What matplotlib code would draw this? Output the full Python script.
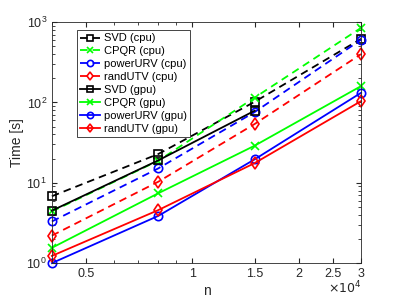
import numpy as np
import matplotlib
matplotlib.use("Agg")
import matplotlib.pyplot as plt
from matplotlib.ticker import FixedLocator, NullFormatter, LogLocator

plt.rcParams['font.family'] = ['Liberation Sans', 'DejaVu Sans']

# matrix sizes
n = [4000, 8000, 15000, 30000]

# timings in seconds
svd_cpu = [6.8, 22.8, 102, 620]
cpqr_cpu = [4.4, 18.8, 115, 850]
purv_cpu = [3.3, 15.1, 76, 605]
rutv_cpu = [2.2, 10.3, 54, 400]
svd_gpu = [4.5, 19.0, 79, np.nan]
cpqr_gpu = [1.55, 7.4, 29, 160]
purv_gpu = [1.0, 3.87, 19.6, 132]
rutv_gpu = [1.23, 4.57, 17.6, 104]

xticks = [5000, 10000, 15000, 20000, 25000, 30000]
xticklabels = ['0.5', '1', '1.5', '2', '2.5', '3']

grey = (0.15, 0.15, 0.15)
green = (0, 1, 0)

fig = plt.figure(figsize=(3.99, 2.99), dpi=100)
ax = fig.add_axes([0.130, 0.120, 0.775, 0.806])

series = [
    (svd_cpu, 'k', 's', '--', 'SVD (cpu)'),
    (cpqr_cpu, green, 'x', '--', 'CPQR (cpu)'),
    (purv_cpu, 'b', 'o', '--', 'powerURV (cpu)'),
    (rutv_cpu, 'r', 'd', '--', 'randUTV (cpu)'),
    (svd_gpu, 'k', 's', '-', 'SVD (gpu)'),
    (cpqr_gpu, green, 'x', '-', 'CPQR (gpu)'),
    (purv_gpu, 'b', 'o', '-', 'powerURV (gpu)'),
    (rutv_gpu, 'r', 'd', '-', 'randUTV (gpu)'),
]
for y, c, m, ls, lab in series:
    line, = ax.plot(n, y, color=c, marker=m, linestyle=ls, label=lab, lw=1.3,
                    markersize=6, markerfacecolor='none', markeredgewidth=1.2,
                    clip_on=False)
    if ls == '--':
        line.set_dashes((4.2, 2.8))

ax.set_xscale('log')
ax.set_yscale('log')
ax.set_xlim(4000, 30000)
ax.set_ylim(1, 1000)
ax.xaxis.set_major_locator(FixedLocator(xticks))
ax.set_xticklabels(xticklabels)
ax.xaxis.set_minor_locator(LogLocator(base=10, subs=np.arange(1, 10) * 1.0))
ax.xaxis.set_minor_formatter(NullFormatter())
ax.yaxis.set_minor_locator(LogLocator(base=10, subs=np.arange(2, 10) * 1.0))

ax.tick_params(which='both', direction='in', top=True, right=True,
               colors=grey, labelsize=9)
ax.tick_params(which='major', length=3.5)
ax.tick_params(which='minor', length=2)
for s in ax.spines.values():
    s.set_color(grey)
    s.set_linewidth(0.6)

ax.set_xlabel('n', fontsize=10, color=grey, labelpad=3)
ax.set_ylabel('Time [s]', fontsize=10, color=grey, labelpad=2)
fig.text(0.905, 0.01, r'$\times10^4$', ha='right', va='bottom',
         fontsize=9, color=grey)

leg = ax.legend(loc='upper left', bbox_to_anchor=(0.081, 0.967), fontsize=8,
                handlelength=1.8, handletextpad=0.35, labelspacing=0.26,
                borderpad=0.3, borderaxespad=0, fancybox=False, framealpha=1,
                markerscale=0.75)
leg.get_frame().set_edgecolor(grey)
leg.get_frame().set_linewidth(0.6)

fig.savefig('out.png', dpi=100)
